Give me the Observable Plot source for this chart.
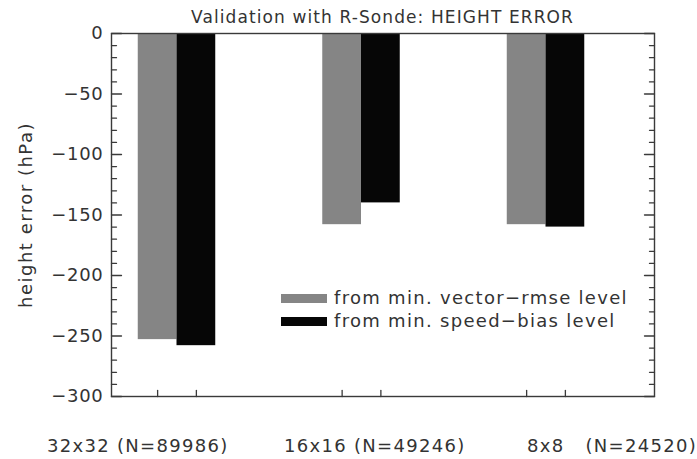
<!DOCTYPE html>
<html>
<head>
<meta charset="utf-8">
<script src="https://cdn.jsdelivr.net/npm/d3@7"></script>
<script src="https://cdn.jsdelivr.net/npm/@observablehq/plot@0.6"></script>
<style>
  html, body { margin: 0; padding: 0; background: #fff; }
  #wrap { position: relative; width: 697px; height: 459px; overflow: hidden;
          font-family: "DejaVu Sans", sans-serif; color: #333; }
  #wrap svg { position: absolute; left: 0; top: 0; }
  .ov { position: absolute; white-space: pre; font-size: 18px; line-height: 1; }
  .sw { position: absolute; width: 46px; height: 9px; }
</style>
</head>
<body>
<div id="wrap"></div>
<script>
// ---- data ----
const categories = ["32x32", "16x16", "8x8"];
const sampleLabels = ["32x32 (N=89986)", "16x16 (N=49246)", "8x8   (N=24520)"];
const rmseLevel = [-253, -158, -158];   // from min. vector-rmse level
const biasLevel = [-258, -140, -160];   // from min. speed-bias level
const seriesNames = ["from min. vector\u2212rmse level", "from min. speed\u2212bias level"];
const yMajorTicks = [0, -50, -100, -150, -200, -250, -300];
const title = "Validation with R-Sonde: HEIGHT ERROR";
const yLabel = "height error (hPa)";

// ---- layout ----
const colors = ["#858585", "#060606"];
const barW = 0.21;
const rows = [];
categories.forEach((c, i) => {
  const g = i + 1;
  rows.push({cat: c, s: 0, x1: g - barW, x2: g, v: rmseLevel[i]});
  rows.push({cat: c, s: 1, x1: g, x2: g + barW, v: biasLevel[i]});
});
const barCenters = rows.map(d => (d.x1 + d.x2) / 2);
const minorTicks = d3.range(0, -301, -10).filter(v => v % 50 !== 0);

const tickShape = { draw(ctx, l) { ctx.moveTo(0, 0); ctx.lineTo(0, -l); } };
const ink = "#3a3a3a";

const plot = Plot.plot({
  width: 697, height: 459,
  marginLeft: 111, marginRight: 43, marginTop: 33, marginBottom: 63,
  style: { fontFamily: "DejaVu Sans, sans-serif", fontSize: "18px", color: "#333", letterSpacing: "0.7px", background: "transparent" },
  x: { type: "linear", domain: [0.645, 3.588], axis: null },
  y: { domain: [-300, 0], axis: null },
  marks: [
    Plot.rect(rows, { x1: "x1", x2: "x2", y1: 0, y2: "v", fill: d => colors[d.s] }),
    Plot.frame({ stroke: ink, strokeWidth: 1.4 }),
    // left ticks
    Plot.vectorY(yMajorTicks, { frameAnchor: "left", length: 10, rotate: 90, anchor: "start", shape: tickShape, stroke: ink, strokeWidth: 1.3 }),
    Plot.vectorY(minorTicks, { frameAnchor: "left", length: 5, rotate: 90, anchor: "start", shape: tickShape, stroke: ink, strokeWidth: 1.3 }),
    // right ticks
    Plot.vectorY(yMajorTicks, { frameAnchor: "right", length: 10, rotate: -90, anchor: "start", shape: tickShape, stroke: ink, strokeWidth: 1.3 }),
    Plot.vectorY(minorTicks, { frameAnchor: "right", length: 5, rotate: -90, anchor: "start", shape: tickShape, stroke: ink, strokeWidth: 1.3 }),
    // bottom ticks at bar centres
    Plot.vectorX(barCenters, { frameAnchor: "bottom", length: 6, rotate: 0, anchor: "start", shape: tickShape, stroke: ink, strokeWidth: 1.3 }),
    Plot.axisY(yMajorTicks, { anchor: "left", tickSize: 0, tickPadding: 8, tickFormat: d => d3.format("d")(d).replace("-", "\u2212"), label: null, fill: "#333" }),
    Plot.text([yLabel], { frameAnchor: "left", dx: -85, rotate: -90, text: d => d, textAnchor: "middle", lineAnchor: "middle", fill: "#333", fontSize: 18, style: "letter-spacing:1.5px" })
  ]
});

const wrap = document.getElementById("wrap");
wrap.appendChild(plot);
// letter spacing for the axis title
plot.querySelectorAll("text").forEach(el => { if (el.textContent === yLabel) el.setAttribute("letter-spacing", "1.5"); });

function addText(txt, left, top, extra) {
  const d = document.createElement("div");
  d.className = "ov";
  d.textContent = txt;
  d.style.left = left + "px";
  d.style.top = top + "px";
  Object.assign(d.style, extra || {});
  wrap.appendChild(d);
  return d;
}
// title centred over frame
addText(title, 0, 9, { width: "100%", textAlign: "center", fontSize: "17px", letterSpacing: "1.1px", paddingLeft: "68px", boxSizing: "border-box" });
// legend
const legendPos = [{ x: 281, y: 294 }, { x: 281, y: 317 }];
seriesNames.forEach((n, i) => {
  const s = document.createElement("div");
  s.className = "sw";
  s.style.left = legendPos[i].x + "px";
  s.style.top = legendPos[i].y + "px";
  s.style.background = colors[i];
  wrap.appendChild(s);
  addText(n, legendPos[i].x + 53, legendPos[i].y - 5, { letterSpacing: "1.3px" });
});
// bottom group labels
const labelLeft = [47, 284, 527];
sampleLabels.forEach((l, i) => addText(l, labelLeft[i], 437, { letterSpacing: "1.3px" }));
</script>
</body>
</html>
